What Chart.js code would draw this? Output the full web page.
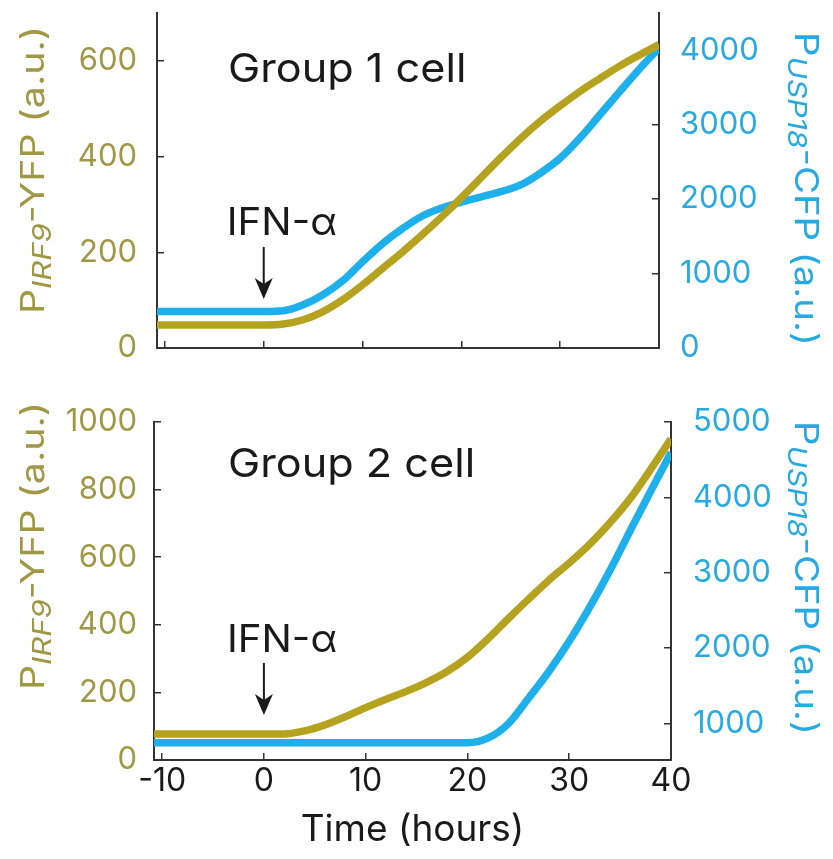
<!DOCTYPE html>
<html>
<head>
<meta charset="utf-8">
<script src="https://cdn.jsdelivr.net/npm/chart.js@4.4.1/dist/chart.umd.min.js"></script>
<style>
  html, body { margin: 0; padding: 0; background: #ffffff; }
  #wrap { position: relative; width: 833px; height: 859px; overflow: hidden; background: #ffffff; }
  #panelTop { position: absolute; left: 0; top: 0; }
  #panelBottom { position: absolute; left: 0; top: 380px; }
</style>
</head>
<body>
<div id="wrap">
  <canvas id="panelTop" width="833" height="380"></canvas>
  <canvas id="panelBottom" width="833" height="479"></canvas>
</div>
<script>
// Time after IFN-alpha addition (hours); both cells share the sampling grid
const timeHours = [-10.8, -8, -6, -4, -2, 0, 2, 4, 6, 8, 10, 12, 14, 16, 18, 20, 22, 24, 26, 28, 30, 32, 34, 36, 38, 40];

// Group 1 cell: reporter intensities (a.u.)
const group1Yfp = [48, 48, 48, 48, 48, 48, 50, 59, 76, 101, 132, 166, 200, 236, 274, 314, 356, 398, 438, 474, 506, 536, 563, 589, 612, 634];
const group1Cfp = [490, 490, 490, 490, 490, 490, 500, 580, 716, 904, 1159, 1400, 1600, 1770, 1880, 1960, 2030, 2100, 2190, 2350, 2550, 2820, 3130, 3440, 3745, 4030];

// Group 2 cell: reporter intensities (a.u.)
const group2Yfp = [77, 77, 77, 77, 77, 77, 77, 86, 104, 128, 155, 180, 203, 230, 262, 304, 358, 418, 476, 532, 583, 638, 702, 774, 860, 950];
const group2Cfp = [745, 745, 745, 745, 745, 745, 745, 745, 745, 745, 745, 745, 745, 745, 745, 745, 805, 995, 1335, 1690, 2090, 2540, 3030, 3560, 4080, 4595];

// Axis ticks and ranges
const timeTicks = [-10, 0, 10, 20, 30, 40];
const timeRange = [-10.8, 40];
const group1YfpTicks = [0, 200, 400, 600];
const group1YfpRange = [0, 700];
const group1CfpTicks = [0, 1000, 2000, 3000, 4000];
const group1CfpRange = [0, 4500];
const group2YfpTicks = [0, 200, 400, 600, 800, 1000];
const group2YfpRange = [0, 1000];
const group2CfpTicks = [1000, 2000, 3000, 4000, 5000];
const group2CfpRange = [515, 5000];

const stimulusTime = 0;   // IFN-alpha added at t = 0

const FONT = '"Inter", "Liberation Sans", Arial, sans-serif';
const OLIVE = '#b5a320';
const OLIVE_TEXT = '#a09845';
const CYAN = '#1db0eb';
const CYAN_TEXT = '#27a9e1';
const INK = '#1a1a1a';
const AXIS = '#333333';

function toPoints(values) {
  return timeHours.map((t, i) => ({ x: t, y: values[i] }));
}

function fixedTicks(list) {
  return scale => { scale.ticks = list.map(v => ({ value: v })); };
}

// Keep every scale at a fixed size, without extra label padding around the plot
function fixedSize(prop, size) {
  return s => {
    s[prop] = size;
    s.paddingTop = 0; s.paddingBottom = 0; s.paddingLeft = 0; s.paddingRight = 0;
  };
}

// Axis titles with subscripts, panel label and the stimulus arrow
const panelText = {
  id: 'panelText',
  afterDatasetsDraw(chart, args, o) {
    const ctx = chart.ctx;
    ctx.save();

    function rotatedTitle(parts, x, cy, angle, color, stretch) {
      let total = 0;
      parts.forEach(p => { ctx.font = p.font; p.w = ctx.measureText(p.text).width; total += p.w; });
      ctx.save();
      ctx.translate(x, cy);
      ctx.rotate(angle);
      ctx.scale(stretch, 1);
      ctx.fillStyle = color;
      ctx.textAlign = 'left';
      ctx.textBaseline = 'alphabetic';
      let pos = -total / 2;
      parts.forEach(p => { ctx.font = p.font; ctx.fillText(p.text, pos, p.dy || 0); pos += p.w; });
      ctx.restore();
    }

    function stretchedText(text, font, x, y, stretch) {
      ctx.save();
      ctx.translate(x, y);
      ctx.scale(stretch, 1);
      ctx.font = font;
      ctx.fillStyle = INK;
      ctx.textAlign = 'left';
      ctx.textBaseline = 'alphabetic';
      ctx.fillText(text, 0, 0);
      ctx.restore();
    }

    rotatedTitle([
      { text: 'P', font: '33px ' + FONT },
      { text: 'IRF9', font: 'italic 26px ' + FONT, dy: 7 },
      { text: '-YFP (a.u.)', font: '33px ' + FONT }
    ], o.leftTitleX, o.leftTitleY, -Math.PI / 2, OLIVE_TEXT, 1.19);

    rotatedTitle([
      { text: 'P', font: '33px ' + FONT },
      { text: 'USP18', font: 'italic 26px ' + FONT, dy: 7 },
      { text: '-CFP (a.u.)', font: '33px ' + FONT }
    ], o.rightTitleX, o.rightTitleY, Math.PI / 2, CYAN_TEXT, 1.16);

    stretchedText(o.label, '40px ' + FONT, o.labelX, o.labelY, 1.08);

    const ax = chart.scales.x.getPixelForValue(stimulusTime);
    stretchedText('IFN-\u03b1', '38px ' + FONT, ax - 37, o.stimTextY, 1.06);

    ctx.strokeStyle = INK;
    ctx.lineWidth = 2;
    ctx.beginPath();
    ctx.moveTo(ax, o.arrowTop);
    ctx.lineTo(ax, o.arrowTip - 12);
    ctx.stroke();
    ctx.beginPath();
    ctx.moveTo(ax - 9, o.arrowTip - 21);
    ctx.lineTo(ax, o.arrowTip);
    ctx.lineTo(ax + 9, o.arrowTip - 21);
    ctx.lineTo(ax, o.arrowTip - 15);
    ctx.closePath();
    ctx.fillStyle = INK;
    ctx.fill();

    ctx.restore();
  }
};

function makePanel(canvas, p) {
  const tickGrid = { drawOnChartArea: false, drawTicks: true, tickLength: -7, color: AXIS, lineWidth: 1.5 };
  const border = { display: true, color: AXIS, width: 2 };
  const plain = v => String(v);
  return new Chart(canvas, {
    type: 'line',
    data: {
      datasets: [
        {
          label: 'YFP', data: toPoints(p.yfp), yAxisID: 'yL',
          borderColor: OLIVE, borderWidth: 7.5, pointRadius: 0, fill: false,
          cubicInterpolationMode: 'monotone', borderCapStyle: 'butt'
        },
        {
          label: 'CFP', data: toPoints(p.cfp), yAxisID: 'yR',
          borderColor: CYAN, borderWidth: 7.5, pointRadius: 0, fill: false,
          cubicInterpolationMode: 'monotone', borderCapStyle: 'butt'
        }
      ]
    },
    options: {
      responsive: false,
      animation: false,
      devicePixelRatio: 1,
      layout: { padding: { top: p.padTop, left: 0, right: 0, bottom: 0 } },
      plugins: {
        legend: { display: false },
        tooltip: { enabled: false },
        panelText: p.text
      },
      scales: {
        x: {
          type: 'linear', position: 'bottom',
          min: timeRange[0], max: timeRange[1],
          afterBuildTicks: fixedTicks(timeTicks),
          afterFit: fixedSize('height', p.xHeight),
          grid: tickGrid, border: border,
          ticks: {
            display: p.showTime, autoSkip: false, maxRotation: 0, padding: 9,
            color: INK, font: { family: FONT, size: 32 }, callback: plain
          },
          title: {
            display: p.showTime, text: 'Time (hours)', color: INK,
            font: { family: FONT, size: 37 }, padding: { top: 0, bottom: 7 }
          }
        },
        yL: {
          type: 'linear', position: 'left',
          min: p.yfpRange[0], max: p.yfpRange[1],
          afterBuildTicks: fixedTicks(p.yfpTicks),
          afterFit: fixedSize('width', p.leftWidth),
          grid: tickGrid, border: border,
          ticks: { padding: p.leftPad, color: OLIVE_TEXT, font: { family: FONT, size: 31 }, callback: plain }
        },
        yR: {
          type: 'linear', position: 'right',
          min: p.cfpRange[0], max: p.cfpRange[1],
          afterBuildTicks: fixedTicks(p.cfpTicks),
          afterFit: fixedSize('width', p.rightWidth),
          grid: tickGrid, border: border,
          ticks: { padding: p.rightPad, color: CYAN_TEXT, font: { family: FONT, size: 31 }, callback: plain }
        }
      }
    },
    plugins: [panelText]
  });
}

makePanel(document.getElementById('panelTop'), {
  yfp: group1Yfp, cfp: group1Cfp,
  yfpTicks: group1YfpTicks, yfpRange: group1YfpRange,
  cfpTicks: group1CfpTicks, cfpRange: group1CfpRange,
  padTop: 13, xHeight: 32, leftWidth: 157, rightWidth: 174,
  leftPad: 27, rightPad: 28, showTime: false,
  text: {
    label: 'Group 1 cell', labelX: 228, labelY: 82,
    stimTextY: 235, arrowTop: 247, arrowTip: 299,
    leftTitleX: 44, leftTitleY: 170, rightTitleX: 795, rightTitleY: 189
  }
});

makePanel(document.getElementById('panelBottom'), {
  yfp: group2Yfp, cfp: group2Cfp,
  yfpTicks: group2YfpTicks, yfpRange: group2YfpRange,
  cfpTicks: group2CfpTicks, cfpRange: group2CfpRange,
  padTop: 42, xHeight: 99, leftWidth: 154, rightWidth: 162,
  leftPad: 24, rightPad: 29, showTime: true,
  text: {
    label: 'Group 2 cell', labelX: 228, labelY: 97,
    stimTextY: 272, arrowTop: 283, arrowTip: 335,
    leftTitleX: 44, leftTitleY: 166, rightTitleX: 795, rightTitleY: 198
  }
});
</script>
</body>
</html>
